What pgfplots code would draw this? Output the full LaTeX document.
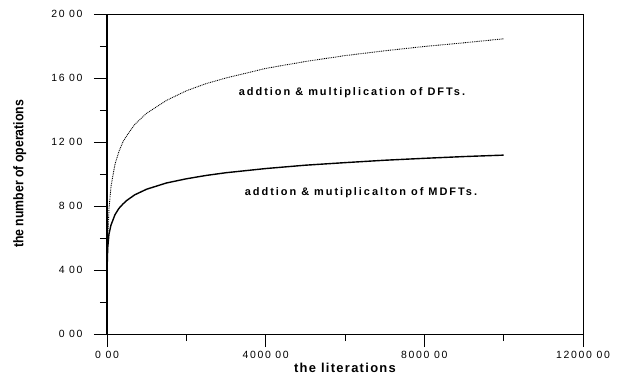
\documentclass[border=0pt]{standalone}
\usepackage{fontspec}
\setmainfont{Liberation Sans}
\newfontfamily\tickfont[LetterSpace=16]{Liberation Sans}
\newfontfamily\notefont[LetterSpace=18]{Liberation Sans}
\newfontfamily\xlabfont[LetterSpace=10]{Liberation Sans}
\usepackage{pgfplots}
\pgfplotsset{compat=1.18}

% operation counts versus number of iterations
\pgfplotstableread{
x      y
3      2.2
5      3.2
10     4.6
20     6.0
50     7.8
100    9.2
200    10.6
300    11.4
400    12.0
500    12.4
700    13.1
1000   13.8
1500   14.6
2000   15.2
2500   15.65
3000   16.0
4000   16.6
5000   17.03
6000   17.4
7000   17.7
8000   17.97
9000   18.2
10000  18.45
}\dftdata

\pgfplotstableread{
x      y
3      3.7
5      4.2
10     4.8
20     5.45
50     6.25
100    6.8
200    7.45
300    7.85
400    8.12
500    8.35
700    8.7
1000   9.05
1500   9.44
2000   9.7
2500   9.91
3000   10.08
4000   10.34
5000   10.55
6000   10.71
7000   10.86
8000   10.98
9000   11.09
10000  11.18
}\mdftdata

\begin{document}
\begin{tikzpicture}
\begin{axis}[
  scale only axis,
  width=476bp, height=320bp,
  xmin=0, xmax=12000, ymin=0, ymax=20,
  xtick={0,4000,8000,12000},
  xticklabels={0 00,4000 00,8000 00,12000 00},
  minor xtick={2000,6000,10000},
  ytick={0,4,8,12,16,20},
  yticklabels={0 00,4 00,8 00,12 00,16 00,20 00},
  minor ytick={2,6,10,14,18},
  xtick pos=left, ytick pos=left,
  tick align=outside,
  major tick length=13bp, minor tick length=7bp,
  every tick/.style={black, line width=0.6pt},
  axis line style={line width=0.6pt},
  ticklabel style={font=\tickfont\fontsize{10.5}{12}\selectfont},
  xticklabel style={yshift=-1bp},
  yticklabel style={xshift=-8bp},
  scaled ticks=false,
  xlabel={\xlabfont\bfseries\fontsize{13}{15}\selectfont the literations},
  ylabel={\bfseries\fontsize{14}{16}\selectfont the number of operations},
  every axis x label/.style={at={(axis description cs:0.5,-0.106)}, anchor=center},
  every axis y label/.style={at={(axis description cs:-0.183,0.5)}, anchor=center, rotate=90, xscale=0.88},
  clip=false,
]
\addplot[black, line width=0.9pt, dash pattern=on 0.9pt off 0.9pt] table[x=x, y=y] {\dftdata};
\addplot[black, line width=1.4pt] table[x=x, y=y] {\mdftdata};

\node[font=\notefont\bfseries\fontsize{11}{13}\selectfont] at (axis cs:6176,15.06) {addtion \& multiplication of DFTs.};
\node[font=\notefont\bfseries\fontsize{11}{13}\selectfont] at (axis cs:6403,8.81) {addtion \& mutiplicalton of MDFTs.};

\draw[line width=1.6pt] (rel axis cs:0,0) -- (rel axis cs:0,1);
\coordinate (lo) at (rel axis cs:0,0);
\coordinate (hi) at (rel axis cs:1,1);
\end{axis}
\pgfresetboundingbox
\path[use as bounding box] ([shift={(-107bp,-44bp)}]lo) rectangle ([shift={(42bp,14bp)}]hi);
\end{tikzpicture}
\end{document}
